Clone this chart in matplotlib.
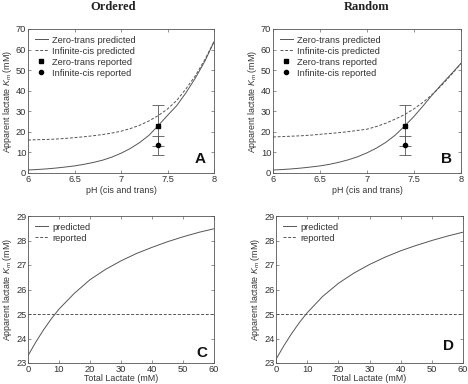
import numpy as np
import matplotlib
matplotlib.use("Agg")
from matplotlib import pyplot as plt
from matplotlib.lines import Line2D

plt.rcParams['font.family'] = ['Liberation Sans', 'DejaVu Sans']
plt.rcParams['mathtext.fontset'] = 'custom'
plt.rcParams['mathtext.rm'] = 'Liberation Sans'
plt.rcParams['mathtext.it'] = 'Liberation Sans:italic'

# pH grid for top panels
ph = [6.0, 6.1, 6.2, 6.3, 6.4, 6.5, 6.6, 6.7, 6.8, 6.9, 7.0,
      7.1, 7.2, 7.3, 7.4, 7.5, 7.6, 7.7, 7.8, 7.9, 8.0]

# Ordered
ord_zero_trans = [1.45, 1.7, 2.0, 2.4, 2.9, 3.45, 4.2, 5.1, 6.2, 7.7, 9.6,
                  11.9, 14.8, 18.3, 23.0, 28.0, 32.8, 39.1, 46.2, 54.2, 63.8]
ord_inf_cis = [16.0, 16.2, 16.3, 16.5, 16.8, 17.2, 17.6, 18.1, 18.7, 19.4, 20.3,
               21.6, 23.2, 25.3, 27.9, 31.1, 35.3, 41.0, 47.3, 55.0, 63.8]

# Random
rnd_zero_trans = [1.45, 1.7, 2.0, 2.4, 2.9, 3.45, 4.2, 5.2, 6.4, 7.9, 9.8,
                  12.1, 14.9, 18.4, 22.8, 27.5, 32.8, 38.3, 43.4, 48.3, 53.3]
rnd_inf_cis = [17.5, 17.7, 17.9, 18.1, 18.4, 18.8, 19.2, 19.6, 20.1, 20.7, 21.3,
               22.6, 24.2, 26.2, 28.4, 31.2, 34.5, 38.4, 42.9, 47.9, 53.3]

# reported values at pH 7.4
rep_ph = 7.4
rep_zero_trans, rep_zero_trans_err = 23.0, 10.0
rep_inf_cis, rep_inf_cis_err = 13.5, 4.7

# Total lactate for bottom panels
lac = [0, 2.5, 5, 7.5, 10, 15, 20, 25, 30, 35, 40, 45, 50, 55, 60]
ord_pred = [23.3, 23.85, 24.35, 24.8, 25.2, 25.85, 26.4, 26.82, 27.17, 27.47, 27.72, 27.95, 28.15, 28.33, 28.48]
rnd_pred = [23.15, 23.7, 24.2, 24.65, 25.05, 25.72, 26.25, 26.67, 27.02, 27.32, 27.58, 27.8, 28.0, 28.18, 28.34]
reported_km = 25.0

line_c = '#555555'
txt_c = '#333333'
ylab = r'Apparent lactate $K_m$ (mM)'
fs_tick = 6.7
fs_lab = 6.4

fig = plt.figure(figsize=(4.68, 3.84), dpi=100)
W, H = 468.0, 384.0

def add_ax(l, t, r, b):
    ax = fig.add_axes([l / W, 1 - b / H, (r - l) / W, (b - t) / H])
    ax.tick_params(direction='in', top=True, right=True, labelsize=fs_tick, length=2.5,
                   width=0.5, pad=1.2, colors='#666666', labelcolor=txt_c)
    for s in ax.spines.values():
        s.set_linewidth(0.6)
        s.set_color('#555555')
    return ax

def letter(ax, s, dx, dy):
    # dx, dy: pixel inset from lower-right corner of axes
    ax.annotate(s, xy=(1, 0), xycoords='axes fraction',
                xytext=(-dx / 1.389, dy / 1.389), textcoords='offset points',
                ha='right', va='baseline', fontsize=11, fontweight='bold', color='#111111')

def top_panel(ax, zt, ic):
    ax.plot(ph, zt, '-', color=line_c, lw=0.7)
    ax.plot(ph, ic, '--', color=line_c, lw=0.7, dashes=(3, 1.8))
    ax.errorbar([rep_ph], [rep_zero_trans], yerr=[rep_zero_trans_err], fmt='s', ms=3.0,
                color='black', ecolor=line_c, elinewidth=0.6, capsize=4.3, capthick=0.6)
    ax.errorbar([rep_ph], [rep_inf_cis], yerr=[rep_inf_cis_err], fmt='o', ms=3.0,
                color='black', ecolor=line_c, elinewidth=0.6, capsize=4.3, capthick=0.6)
    ax.set_xlim(6, 8)
    ax.set_ylim(0, 70)
    ax.set_xticks([6, 6.5, 7, 7.5, 8])
    ax.set_xticklabels(['6', '6.5', '7', '7.5', '8'])
    ax.set_yticks(range(0, 71, 10))
    ax.set_xlabel('pH (cis and trans)', fontsize=fs_lab, labelpad=2, color=txt_c)
    ax.set_ylabel(ylab, fontsize=fs_lab, labelpad=1.5, color=txt_c)
    hs = [Line2D([], [], ls='-', color=line_c, lw=0.7),
          Line2D([], [], ls='--', dashes=(3, 1.8), color=line_c, lw=0.7),
          Line2D([], [], ls='none', marker='s', ms=3.0, color='black'),
          Line2D([], [], ls='none', marker='o', ms=3.0, color='black')]
    labels = ['Zero-trans predicted', 'Infinite-cis predicted',
              'Zero-trans reported', 'Infinite-cis reported']
    ax.legend(hs, labels, loc='upper left', frameon=False, fontsize=fs_tick,
              handlelength=1.5, handletextpad=0.4, labelspacing=0.22,
              borderaxespad=0.3, labelcolor=txt_c)

def bottom_panel(ax, pred):
    ax.plot(lac, pred, '-', color=line_c, lw=0.7, label='predicted')
    ax.axhline(reported_km, ls='--', dashes=(3, 1.8), color=line_c, lw=0.7, label='reported')
    ax.set_xlim(0, 60)
    ax.set_ylim(23, 29)
    ax.set_xticks(range(0, 61, 10))
    ax.set_yticks(range(23, 30))
    ax.set_xlabel('Total Lactate (mM)', fontsize=fs_lab, labelpad=0.5, color=txt_c)
    ax.set_ylabel(ylab, fontsize=fs_lab, labelpad=1.5, color=txt_c)
    ax.legend(loc='upper left', frameon=False, fontsize=fs_tick, handlelength=1.5,
              handletextpad=0.4, labelspacing=0.22, borderaxespad=0.3, labelcolor=txt_c)

axA = add_ax(28, 29, 214, 173)
axB = add_ax(273, 29, 461, 173)
axC = add_ax(28, 216, 214, 363)
axD = add_ax(276, 216, 463, 363)

top_panel(axA, ord_zero_trans, ord_inf_cis)
top_panel(axB, rnd_zero_trans, rnd_inf_cis)
bottom_panel(axC, ord_pred)
bottom_panel(axD, rnd_pred)

letter(axA, 'A', 8, 10)
letter(axB, 'B', 9, 10)
letter(axC, 'C', 7, 6)
letter(axD, 'D', 9, 13)

fig.text(113 / W, 1 - 7.5 / H, 'Ordered', ha='center', va='center', fontsize=9,
         fontweight='bold', family='Liberation Serif', color='#222222')
fig.text(366.5 / W, 1 - 7.5 / H, 'Random', ha='center', va='center', fontsize=9,
         fontweight='bold', family='Liberation Serif', color='#222222')

fig.savefig('out.png', dpi=100)
